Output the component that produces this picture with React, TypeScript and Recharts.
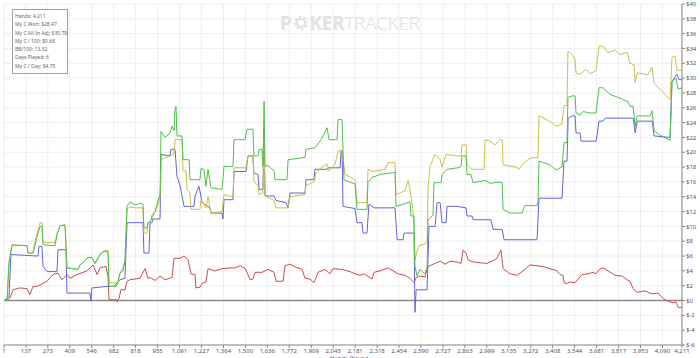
import {
  CartesianGrid,
  Line,
  LineChart,
  ReferenceLine,
  XAxis,
  YAxis,
} from 'recharts';

/*
 * Session graph: net won, showdown, non-showdown and all-in adjusted winnings
 * plotted against hands played. Points are [hand, dollars].
 */
const NET_WON: [number, number][] = [
  [1, 0], [20, 0], [32, 5.1], [51, 7.5], [144, 7.4], [150, 6.4], [181, 6.4], [194, 7.5], [206, 8.6],
  [225, 10.0], [237, 10.0], [243, 7.5], [318, 7.4], [330, 8.9], [349, 10.1], [380, 10.2], [392, 4.4],
  [461, 4.2], [473, 4.8], [523, 5.8], [548, 5.8], [566, 5.0], [597, 6.2], [622, 6.6], [647, 6.6],
  [653, 1.9], [697, 1.9], [709, 2.5], [721, 3.7], [740, 4.0], [752, 5.3], [765, 12.7], [783, 13.3],
  [815, 12.9], [846, 13.1], [864, 13.0], [870, 9.8], [889, 9.8], [895, 10.5], [914, 10.8], [920, 11.5],
  [939, 12.0], [957, 13.4], [970, 14.3], [976, 22.8], [1001, 22.0], [1032, 22.6], [1044, 23.5],
  [1057, 22.9], [1063, 25.8], [1069, 26.2], [1075, 22.2], [1106, 22.2], [1113, 19.0], [1150, 19.0],
  [1156, 16.3], [1218, 16.3], [1224, 17.8], [1243, 17.7], [1255, 15.4], [1268, 17.7], [1286, 15.2],
  [1355, 15.0], [1367, 18.1], [1423, 18.1], [1429, 21.7], [1498, 21.7], [1510, 23.1], [1547, 23.1],
  [1553, 19.5], [1578, 19.5], [1585, 20.4], [1603, 20.4], [1609, 18.1], [1616, 26.9], [1622, 18.1],
  [1640, 18.2], [1678, 17.5], [1684, 16.3], [1758, 16.3], [1765, 19.0], [1870, 19.3], [1876, 20.4],
  [1932, 20.6], [1970, 21.7], [2007, 23.3], [2019, 21.7], [2069, 21.7], [2075, 24.4], [2100, 24.4],
  [2112, 16.3], [2181, 15.7], [2193, 12.3], [2255, 12.3], [2261, 15.9], [2286, 16.6], [2336, 17.0],
  [2429, 17.3], [2435, 12.7], [2522, 13.3], [2528, 11.4], [2547, 11.4], [2553, 4.6], [2566, 3.3],
  [2584, 4.2], [2615, 3.6], [2628, 4.5], [2634, 10.9], [2665, 11.5], [2671, 15.9], [2715, 15.9],
  [2721, 17.0], [2752, 17.7], [2820, 17.9], [2839, 18.1], [2845, 19.5], [2870, 19.5], [2876, 17.0],
  [2901, 17.0], [2913, 15.9], [2994, 16.2], [3019, 15.8], [3081, 16.0], [3094, 15.9], [3100, 12.3],
  [3143, 11.8], [3218, 11.8], [3236, 12.8], [3311, 12.8], [3317, 13.4], [3323, 18.8], [3392, 18.3],
  [3429, 17.6], [3466, 18.0], [3479, 21.3], [3497, 21.3], [3503, 27.4], [3528, 27.6], [3547, 27.6],
  [3553, 25.3], [3578, 25.0], [3597, 25.5], [3640, 25.3], [3677, 25.3], [3696, 28.7], [3721, 28.7],
  [3764, 27.8], [3826, 27.3], [3876, 26.8], [3888, 26.2], [3907, 26.2], [3920, 23.5], [3932, 24.9],
  [4013, 24.9], [4025, 25.6], [4038, 22.9], [4075, 22.3], [4137, 21.6], [4149, 29.6], [4174, 30.0],
  [4187, 28.5], [4211, 28.7],
];

const SHOWDOWN: [number, number][] = [
  [1, 0], [32, 0.5], [44, 6.2], [212, 6.0], [218, 7.3], [237, 7.3], [243, 4.6], [268, 3.9], [330, 3.9],
  [336, 6.85], [386, 6.85], [392, 1.0], [535, 1.0], [541, -0.1], [547, 1.7], [641, 1.9], [684, 1.9],
  [721, 2.8], [752, 3.0], [765, 10.5], [864, 10.5], [870, 6.4], [901, 6.4], [908, 10.5], [920, 10.5],
  [926, 11.0], [970, 11.0], [976, 19.7], [1032, 19.5], [1038, 20.4], [1063, 20.4], [1075, 16.8],
  [1094, 15.5], [1119, 12.7], [1181, 12.7], [1187, 14.1], [1212, 15.4], [1231, 13.2], [1280, 12.5],
  [1286, 11.8], [1355, 11.8], [1361, 11.0], [1367, 13.6], [1423, 13.6], [1429, 17.4], [1504, 17.4],
  [1516, 19.5], [1547, 19.5], [1553, 17.2], [1578, 17.0], [1585, 15.0], [1609, 15.0], [1616, 23.1],
  [1622, 14.1], [1678, 14.1], [1690, 13.5], [1752, 13.2], [1765, 12.5], [1777, 14.5], [1870, 14.5],
  [1876, 16.3], [1926, 16.3], [1932, 17.7], [2007, 17.7], [2013, 17.9], [2088, 17.9], [2094, 20.2],
  [2100, 20.2], [2106, 12.7], [2181, 12.4], [2193, 10.5], [2224, 10.5], [2230, 9.1], [2255, 9.1],
  [2267, 13.0], [2299, 12.5], [2429, 12.5], [2442, 8.2], [2479, 8.2], [2485, 9.1], [2547, 9.1],
  [2553, -1.6], [2560, 1.45], [2628, 1.45], [2640, 10.0], [2678, 10.0], [2690, 13.2], [2709, 13.2],
  [2721, 10.5], [2746, 10.5], [2752, 12.7], [2814, 12.7], [2870, 12.5], [2876, 11.4], [2907, 11.4],
  [2914, 10.9], [3025, 10.9], [3038, 9.6], [3094, 9.6], [3106, 8.2], [3311, 8.2], [3323, 13.8],
  [3466, 13.8], [3478, 18.8], [3497, 18.8], [3504, 24.6], [3528, 24.9], [3547, 24.9], [3553, 22.6],
  [3578, 22.6], [3584, 21.5], [3678, 21.5], [3696, 24.2], [3721, 24.2], [3734, 24.6], [3908, 24.6],
  [3920, 22.6], [3933, 24.2], [4026, 24.2], [4038, 22.2], [4137, 22.0], [4149, 29.6], [4180, 30.5],
  [4192, 29.8], [4211, 29.8],
];

const ALL_IN_ADJ: [number, number][] = [
  [1, 0], [20, 0], [32, 5.1], [51, 7.5], [144, 7.4], [150, 6.4], [181, 6.4], [194, 8.0], [206, 9.0],
  [225, 10.5], [237, 10.5], [243, 7.8], [318, 7.8], [330, 8.9], [349, 10.1], [380, 10.2], [392, 4.4],
  [461, 4.2], [473, 4.8], [523, 5.8], [548, 5.8], [566, 5.0], [597, 6.2], [622, 6.8], [647, 6.8],
  [653, 2.4], [697, 2.4], [709, 2.4], [721, 3.6], [740, 4.5], [752, 5.3], [765, 12.4], [783, 12.6],
  [815, 12.5], [864, 12.5], [870, 9.1], [889, 9.1], [895, 10.5], [920, 11.0], [939, 12.0], [957, 13.0],
  [970, 14.0], [976, 19.0], [1032, 19.5], [1057, 19.8], [1063, 21.7], [1106, 21.7], [1113, 17.5],
  [1131, 17.5], [1137, 15.0], [1156, 14.5], [1162, 12.3], [1218, 12.3], [1224, 13.6], [1243, 13.0],
  [1255, 12.5], [1268, 14.0], [1280, 12.5], [1286, 11.8], [1355, 12.0], [1367, 14.3], [1423, 14.0],
  [1429, 17.9], [1504, 17.9], [1516, 19.5], [1547, 19.5], [1553, 16.0], [1578, 15.5], [1585, 14.3],
  [1609, 14.5], [1616, 22.0], [1622, 14.1], [1678, 13.5], [1690, 12.5], [1765, 12.5], [1777, 14.0],
  [1870, 14.3], [1876, 15.5], [1926, 16.0], [1938, 17.2], [1970, 17.9], [2007, 18.4], [2019, 17.5],
  [2057, 18.4], [2075, 20.2], [2100, 20.2], [2112, 18.1], [2119, 17.0], [2181, 16.3], [2193, 13.2],
  [2255, 13.2], [2261, 17.7], [2286, 17.4], [2367, 17.7], [2386, 18.6], [2429, 18.6], [2435, 14.3],
  [2491, 14.8], [2510, 16.2], [2522, 15.0], [2541, 12.0], [2553, 5.5], [2566, 6.7], [2578, 7.4],
  [2615, 7.6], [2628, 8.0], [2634, 15.0], [2646, 18.1], [2677, 19.7], [2709, 19.0], [2721, 18.0],
  [2746, 19.7], [2814, 19.5], [2839, 19.5], [2845, 21.0], [2870, 21.0], [2876, 18.3], [2907, 17.7],
  [2982, 17.7], [2988, 21.7], [3019, 21.5], [3050, 21.0], [3081, 21.7], [3094, 21.7], [3100, 18.3],
  [3181, 18.0], [3199, 17.7], [3224, 18.5], [3267, 19.2], [3311, 19.3], [3317, 19.2], [3323, 24.9],
  [3361, 24.5], [3404, 24.0], [3429, 23.5], [3466, 23.8], [3479, 26.3], [3497, 26.3], [3503, 33.6],
  [3528, 33.2], [3547, 32.5], [3553, 30.7], [3578, 30.5], [3615, 31.2], [3640, 30.6], [3677, 31.0],
  [3696, 34.3], [3721, 34.3], [3752, 33.4], [3795, 33.8], [3826, 33.2], [3870, 33.5], [3888, 32.0],
  [3913, 31.8], [3920, 29.4], [3932, 30.7], [4000, 30.5], [4025, 31.5], [4038, 29.3], [4075, 28.5],
  [4106, 27.8], [4137, 27.1], [4149, 32.8], [4168, 33.0], [4180, 31.0], [4211, 31.1],
];

const NON_SHOWDOWN: [number, number][] = [
  [1, 0], [20, 0], [38, 0.35], [57, 1.45], [100, 1.7], [144, 1.6], [162, 0.8], [181, 1.9], [206, 1.9],
  [225, 2.1], [268, 2.6], [305, 3.5], [336, 3.7], [361, 2.8], [392, 3.5], [411, 3.0], [454, 3.5],
  [516, 4.0], [554, 4.8], [579, 3.5], [597, 4.4], [634, 4.6], [647, 3.2], [653, 0.1], [697, 0.1],
  [703, -0.2], [715, 0.3], [728, 1.5], [752, 1.4], [765, 2.6], [783, 2.8], [815, 2.9], [846, 3.0],
  [877, 4.3], [895, 3.0], [908, 3.1], [939, 2.7], [970, 3.3], [1001, 2.8], [1044, 3.1], [1057, 5.7],
  [1094, 5.7], [1119, 6.0], [1144, 5.5], [1162, 3.6], [1187, 3.5], [1193, 1.7], [1218, 1.8],
  [1231, 2.3], [1255, 2.5], [1268, 4.3], [1311, 4.0], [1355, 4.3], [1404, 4.4], [1436, 4.4],
  [1467, 4.7], [1498, 4.3], [1510, 3.8], [1529, 2.8], [1547, 2.9], [1560, 3.8], [1603, 3.8],
  [1640, 4.2], [1678, 3.8], [1690, 2.6], [1734, 2.6], [1746, 4.7], [1777, 4.9], [1814, 4.5],
  [1852, 4.2], [1870, 3.0], [1901, 2.9], [1926, 2.4], [1951, 3.8], [1994, 4.2], [2025, 3.6],
  [2044, 4.3], [2100, 4.2], [2150, 3.9], [2181, 3.6], [2212, 3.4], [2237, 3.6], [2286, 2.9],
  [2299, 3.8], [2336, 4.0], [2386, 4.4], [2417, 4.0], [2448, 3.6], [2491, 3.4], [2522, 3.0],
  [2547, 2.4], [2560, 3.1], [2584, 3.3], [2615, 3.2], [2634, 4.6], [2677, 5.0], [2709, 5.3],
  [2740, 4.9], [2771, 5.3], [2814, 5.2], [2839, 5.0], [2851, 6.8], [2870, 6.4], [2882, 5.5],
  [2913, 5.2], [2957, 5.1], [3000, 5.0], [3031, 5.3], [3062, 5.7], [3087, 6.8], [3100, 4.3],
  [3143, 3.6], [3187, 3.4], [3224, 4.0], [3267, 4.8], [3311, 4.7], [3361, 4.5], [3404, 4.2],
  [3429, 4.1], [3454, 3.5], [3472, 3.4], [3479, 2.4], [3497, 2.3], [3516, 2.5], [3547, 2.4],
  [3566, 2.9], [3590, 3.5], [3628, 3.6], [3659, 3.8], [3677, 3.6], [3702, 4.3], [3721, 4.4],
  [3752, 4.0], [3795, 3.4], [3839, 3.3], [3870, 2.8], [3888, 2.6], [3907, 1.6], [3932, 1.1],
  [3982, 1.3], [4025, 0.9], [4062, 1.0], [4093, 0.3], [4124, -0.1], [4155, -0.3], [4174, -0.2],
  [4187, -0.9], [4199, -1.0], [4211, -0.8],
];

const HAND_TICKS = [
  1, 137, 273, 409, 546, 682, 818, 955, 1091, 1227, 1364, 1500, 1636, 1772, 1909, 2045, 2181, 2318,
  2454, 2590, 2727, 2863, 2999, 3135, 3272, 3408, 3544, 3681, 3817, 3953, 4090, 4211,
];
const DOLLAR_TICKS = [
  -6, -4, -2, 0, 2, 4, 6, 8, 10, 12, 14, 16, 18, 20, 22, 24, 26, 28, 30, 32, 34, 36, 38, 40,
];

const STATS = [
  'Hands: 4,211',
  'My C Won: $28.47',
  'My C All-In Adj: $30.78',
  'My C / 100: $0.68',
  'BB/100: 13.52',
  'Days Played: 6',
  'My C / Day: $4.75',
];

const GREEN = '#4fbf4f';
const YELLOW = '#c8c24a';
const BLUE = '#6464d8';
const RED = '#cc4c4c';
const FONT = '"Noto Sans", "DejaVu Sans", sans-serif';

const toRows = (pts: [number, number][]) => pts.map(([h, v]) => ({ h, v }));

function Watermark() {
  return (
    <div
      style={{
        position: 'absolute',
        left: 280,
        top: 10,
        fontFamily: FONT,
        fontSize: 19,
        color: '#e2e2e2',
        display: 'flex',
        alignItems: 'center',
        letterSpacing: -0.3,
        pointerEvents: 'none',
      }}
    >
      <span style={{ fontWeight: 700 }}>P</span>
      <svg width={16} height={16} viewBox="0 0 16 16" style={{ margin: '0 1px' }}>
        <circle cx={8} cy={8} r={7} fill="#e2e2e2" />
        <circle cx={8} cy={8} r={6} fill="none" stroke="#fff" strokeWidth={2} strokeDasharray="2 2.7" />
        <circle cx={8} cy={8} r={3} fill="#fff" />
      </svg>
      <span style={{ fontWeight: 700 }}>KER</span>
      <span style={{ fontWeight: 300 }}>TRACKER</span>
    </div>
  );
}

function StatsBox() {
  return (
    <div
      style={{
        position: 'absolute',
        left: 12,
        top: 9,
        width: 56,
        height: 65,
        boxSizing: 'border-box',
        border: '1px solid #a0a0a0',
        background: '#fff',
        padding: '2px 0 0 2px',
        fontFamily: FONT,
        fontSize: 5,
        lineHeight: '8.3px',
        color: '#666',
        whiteSpace: 'nowrap',
      }}
    >
      {STATS.map((s) => (
        <div key={s}>{s}</div>
      ))}
    </div>
  );
}

export default function App() {
  return (
    <div style={{ position: 'absolute', left: 0, top: 0, width: 700, height: 358, overflow: 'hidden', background: '#fff' }}>
      <LineChart width={700} height={358} margin={{ top: 4, right: 0, bottom: 0, left: 4 }}>
        <CartesianGrid stroke="#efefef" strokeWidth={1} />
        <XAxis
          dataKey="h"
          type="number"
          domain={[1, 4211]}
          ticks={HAND_TICKS}
          interval={0}
          height={13}
          tickSize={3}
          tickMargin={1}
          tickFormatter={(v: number) => v.toLocaleString('en-US')}
          tick={{ fontSize: 6, fill: '#555', fontFamily: FONT }}
          stroke="#888"
          allowDuplicatedCategory={false}
        />
        <XAxis
          xAxisId="top"
          orientation="top"
          dataKey="h"
          type="number"
          domain={[1, 4211]}
          height={0}
          tick={false}
          tickLine={false}
          stroke="#aaa"
        />
        <YAxis
          orientation="right"
          type="number"
          domain={[-6, 40]}
          ticks={DOLLAR_TICKS}
          interval={0}
          width={18}
          tickSize={3}
          tickMargin={1}
          tickFormatter={(v: number) => `$${v}`}
          tick={{ fontSize: 6, fill: '#555', fontFamily: FONT, textAnchor: 'start' }}
          stroke="#888"
        />
        <YAxis yAxisId="left" orientation="left" domain={[-6, 40]} width={0} tick={false} tickLine={false} stroke="#999" />
        <ReferenceLine y={0} stroke="#8a8a8a" strokeWidth={1.5} />
        <Line data={toRows(NON_SHOWDOWN)} dataKey="v" type="linear" stroke={RED} strokeWidth={1} dot={false} isAnimationActive={false} />
        <Line data={toRows(SHOWDOWN)} dataKey="v" type="linear" stroke={BLUE} strokeWidth={1} dot={false} isAnimationActive={false} />
        <Line data={toRows(ALL_IN_ADJ)} dataKey="v" type="linear" stroke={YELLOW} strokeWidth={1} dot={false} isAnimationActive={false} />
        <Line data={toRows(NET_WON)} dataKey="v" type="linear" stroke={GREEN} strokeWidth={1} dot={false} isAnimationActive={false} />
      </LineChart>
      <Watermark />
      <StatsBox />
      <div style={{ position: 'absolute', left: 330, top: 355, fontFamily: FONT, fontSize: 6, lineHeight: '7px', color: '#777' }}>
        Hands Played
      </div>
    </div>
  );
}
